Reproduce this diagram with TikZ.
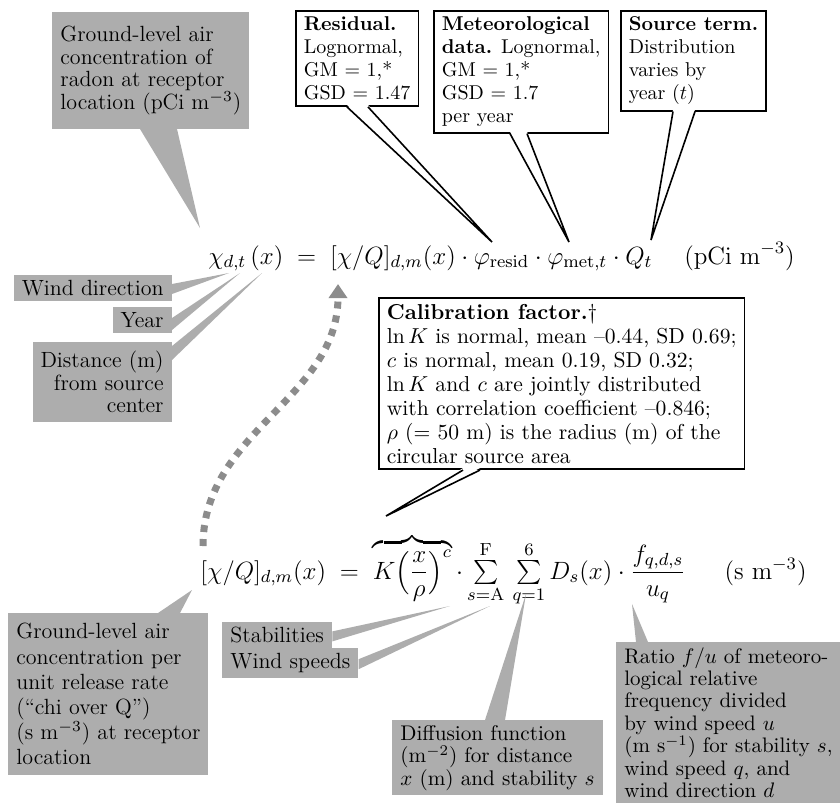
\documentclass[tikz,border=0pt]{standalone}
\usepackage{fix-cm}
\usepackage{amsmath}
\usetikzlibrary{calc,positioning,arrows.meta}

\tikzset{
  note/.style={draw, line width=0.8pt, fill=white, anchor=north west,
    align=left, inner xsep=4pt, inner ysep=3pt,
    font=\fontsize{10}{11.5}\selectfont},
  shade/.style={fill=black!32, inner xsep=4pt, inner ysep=2.5pt,
    font=\fontsize{11}{11.2}\selectfont},
  shadewedge/.style={fill=black!32},
  pointer/.style={draw, line width=0.8pt},
  eqn/.style={anchor=base west, inner sep=0pt,
    font=\fontsize{12.5}{15}\selectfont},
  feedback/.style={draw=black!45, line width=3.5pt,
    dash pattern=on 3.5pt off 3.5pt, -{Triangle[length=7pt, width=9pt]}},
}

\begin{document}
\begin{tikzpicture}[x=0.5pt, y=0.5pt]
  \useasboundingbox (0,0) rectangle (840,-811);

  % === the two equations ===
  \node[eqn] (eqone) at (208,-264)
    {$\chi_{d,t}\,(x) \;=\; [\chi/Q]_{d,m}(x)\cdot\varphi_{\mathrm{resid}}\cdot
      \varphi_{\mathrm{met},t}\cdot Q_t\quad\;(\mathrm{pCi\ m}^{-3})$};
  \node[eqn] (eqtwo) at (200,-579)
    {$[\chi/Q]_{d,m}(x) \;=\; \overbrace{K\Bigl(\dfrac{x}{\rho}\Bigr)^{c}}\cdot
      \sum\limits_{s=\mathrm{A}}^{\mathrm{F}}\,\sum\limits_{q=1}^{6} D_s(x)\cdot\dfrac{f_{q,d,s}}{u_q}
      \quad\;\;(\mathrm{s\ m}^{-3})$};

  % === top row: concentration + the three factors ===
  \node[shade, anchor=north west, align=left, inner ysep=7pt] (radon) at (52,-12)
    {Ground-level air\\concentration of\\radon at receptor\\location (pCi m$^{-3}$)};
  \node[note] (resid) at (295,-10)
    {\textbf{Residual.}\\Lognormal,\\GM = 1,*\\GSD = 1.47};
  \node[note] (met) at (433,-10)
    {\textbf{Meteorological}\\\textbf{data.} Lognormal,\\GM = 1,*\\GSD = 1.7\\per year};
  \node[note] (source) at (620,-10)
    {\textbf{Source term.}\\Distribution\\varies by\\year ($t$)};

  \coordinate (radontip)  at (200,-228);
  \coordinate (residtip)  at (492,-242);
  \coordinate (mettip)    at (569,-242);
  \coordinate (sourcetip) at (651,-240);

  \fill[shadewedge] ($(radon.south west)+(88,0)$) -- (radontip) -- ($(radon.south west)+(125,0)$) -- cycle;

  \fill[white] ($(resid.south west)+(52,2)$) -- (residtip) -- ($(resid.south west)+(73,2)$) -- cycle;
  \draw[pointer] ($(resid.south west)+(52,0)$) -- (residtip) -- ($(resid.south west)+(73,0)$);
  \fill[white] ($(met.south west)+(77,2)$) -- (mettip) -- ($(met.south west)+(94,2)$) -- cycle;
  \draw[pointer] ($(met.south west)+(77,0)$) -- (mettip) -- ($(met.south west)+(94,0)$);
  \fill[white] ($(source.south west)+(53,2)$) -- (sourcetip) -- ($(source.south west)+(75,2)$) -- cycle;
  \draw[pointer] ($(source.south west)+(53,0)$) -- (sourcetip) -- ($(source.south west)+(75,0)$);

  % === subscripts of chi ===
  \node[shade, anchor=east] (winddir) at (172,-288) {Wind direction};
  \node[shade, anchor=east] (year) at (172,-320) {Year};
  \node[shade, anchor=north east, align=right, inner ysep=4.5pt] (dist) at (172,-342)
    {Distance (m)\\from source\\center};

  \coordinate (dtip) at (229,-273);
  \coordinate (ttip) at (240,-273);
  \coordinate (xtip) at (262,-273);

  \fill[shadewedge] ($(winddir.east)+(0,4)$) -- (dtip) -- ($(winddir.east)+(0,-6)$) -- cycle;
  \fill[shadewedge] ($(year.east)+(0,2)$) -- (ttip) -- ($(year.east)+(0,-10)$) -- cycle;
  \fill[shadewedge] ($(dist.north east)+(0,-4)$) -- (xtip) -- ($(dist.north east)+(0,-18)$) -- cycle;

  % === calibration factor ===
  \node[note, font=\fontsize{10.8}{12}\selectfont] (calib) at (378,-297)
    {\textbf{Calibration factor.}\dag\\
     $\ln K$ is normal, mean --0.44, SD 0.69;\\
     $c$ is normal, mean 0.19, SD 0.32;\\
     $\ln K$ and $c$ are jointly distributed\\
     with correlation coefficient --0.846;\\
     $\rho$ (= 50 m) is the radius (m) of the\\
     circular source area};
  \coordinate (calibtip) at (386,-516);
  \fill[white] ($(calib.south west)+(85,2)$) -- (calibtip) -- ($(calib.south west)+(102,2)$) -- cycle;
  \draw[pointer] ($(calib.south west)+(85,0)$) -- (calibtip) -- ($(calib.south west)+(102,0)$);

  % === chi/Q feeds the first equation ===
  \coordinate (fbstart) at (203,-546);
  \coordinate (fbend) at (338,-284);
  \draw[feedback] (fbstart) to[out=90, in=-90] (fbend);

  % === bottom row: terms of chi/Q ===
  \node[shade, anchor=north west, align=left, inner ysep=5pt,
        font=\fontsize{11}{12.6}\selectfont] (chiq) at (8,-613)
    {Ground-level air\\concentration per\\unit release rate\\(“chi over Q”)\\(s m$^{-3}$) at receptor\\location};
  \node[shade, anchor=north west] (stab) at (222,-622) {Stabilities};
  \node[shade, anchor=north west] (wspeed) at (222,-648) {Wind speeds};
  \node[shade, anchor=north west, align=left, font=\fontsize{10.6}{11.2}\selectfont] (diffn) at (392,-720)
    {Diffusion function\\(m$^{-2}$) for distance\\$x$ (m) and stability $s$};
  \node[shade, anchor=north west, align=left, font=\fontsize{10.5}{11.2}\selectfont] (ratio) at (616,-642)
    {Ratio $f/u$ of meteoro-\\logical relative\\frequency divided\\by wind speed $u$\\(m s$^{-1}$) for stability $s$,\\wind speed $q$, and\\wind direction $d$};

  \coordinate (chiqtip) at (192,-590);
  \coordinate (stip)    at (450,-606);
  \coordinate (qtip)    at (490,-606);
  \coordinate (dstip)   at (526,-594);
  \coordinate (utip)    at (632,-604);

  \fill[shadewedge] ($(chiq.north west)+(150,0)$) -- (chiqtip) -- ($(chiq.north west)+(172,0)$) -- cycle;
  \fill[shadewedge] ($(stab.east)+(0,4)$) -- (stip) -- ($(stab.east)+(0,-6)$) -- cycle;
  \fill[shadewedge] ($(wspeed.east)+(0,4)$) -- (qtip) -- ($(wspeed.east)+(0,-6)$) -- cycle;
  \fill[shadewedge] ($(diffn.north west)+(93,0)$) -- (dstip) -- ($(diffn.north west)+(113,0)$) -- cycle;
  \fill[shadewedge] ($(ratio.north west)+(20,0)$) -- (utip) -- ($(ratio.north west)+(32,0)$) -- cycle;

\end{tikzpicture}
\end{document}
